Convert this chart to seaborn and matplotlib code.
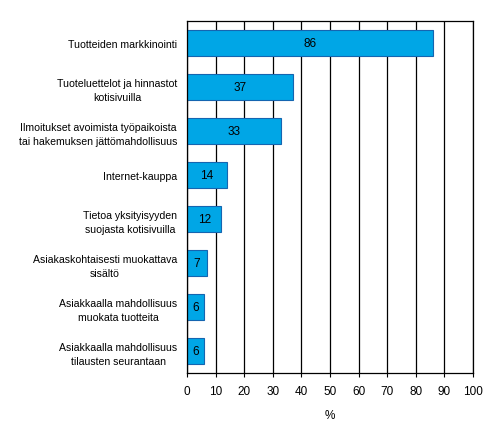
import matplotlib
matplotlib.use("Agg")
import matplotlib.pyplot as plt
import seaborn as sns
import pandas as pd

categories = [
    "Tuotteiden markkinointi",
    "Tuoteluettelot ja hinnastot\nkotisivuilla",
    "Ilmoitukset avoimista työpaikoista\ntai hakemuksen jättömahdollisuus",
    "Internet-kauppa",
    "Tietoa yksityisyyden\nsuojasta kotisivuilla",
    "Asiakaskohtaisesti muokattava\nsisältö",
    "Asiakkaalla mahdollisuus\nmuokata tuotteita",
    "Asiakkaalla mahdollisuus\ntilausten seurantaan",
]
values = [86, 37, 33, 14, 12, 7, 6, 6]
xticks = list(range(0, 101, 10))

df = pd.DataFrame({"cat": categories, "val": values})

sns.set_theme(style="white")
plt.rcParams["font.family"] = ["Liberation Sans", "DejaVu Sans"]
plt.rcParams["text.color"] = "black"
plt.rcParams["xtick.color"] = "black"
plt.rcParams["ytick.color"] = "black"
plt.rcParams["axes.labelcolor"] = "black"

fig = plt.figure(figsize=(4.93, 4.27), dpi=100, facecolor="white")
ax = fig.add_axes([187 / 493, 1 - 374 / 427, 286 / 493, 352 / 427])

sns.barplot(data=df, x="val", y="cat", orient="h", color="#00A6E6",
            saturation=1, width=0.6, edgecolor="#1565B0", linewidth=0.8, ax=ax)

for i, v in enumerate(values):
    ax.text(v / 2, i, str(v), ha="center", va="center", fontsize=8.5, color="black")

ax.set_xlim(0, 100)
ax.set_xticks(xticks)
ax.set_xticklabels([str(t) for t in xticks], fontsize=8.5)
ax.set_ylabel("")
ax.set_xlabel("%", fontsize=8.5, labelpad=8)
ax.tick_params(axis="y", labelsize=7.6, length=0, pad=7)
for lab in ax.get_yticklabels():
    lab.set_multialignment("center")
    lab.set_linespacing(1.45)
ax.tick_params(axis="x", length=3, width=0.8, color="black", pad=6, direction="out", bottom=True)
ax.grid(axis="x", color="black", linewidth=0.9)
ax.set_axisbelow(True)
for s in ax.spines.values():
    s.set_visible(True)
    s.set_color("black")
    s.set_linewidth(0.9)
ax.set_facecolor("white")

fig.savefig("out.png", dpi=100, facecolor="white")
